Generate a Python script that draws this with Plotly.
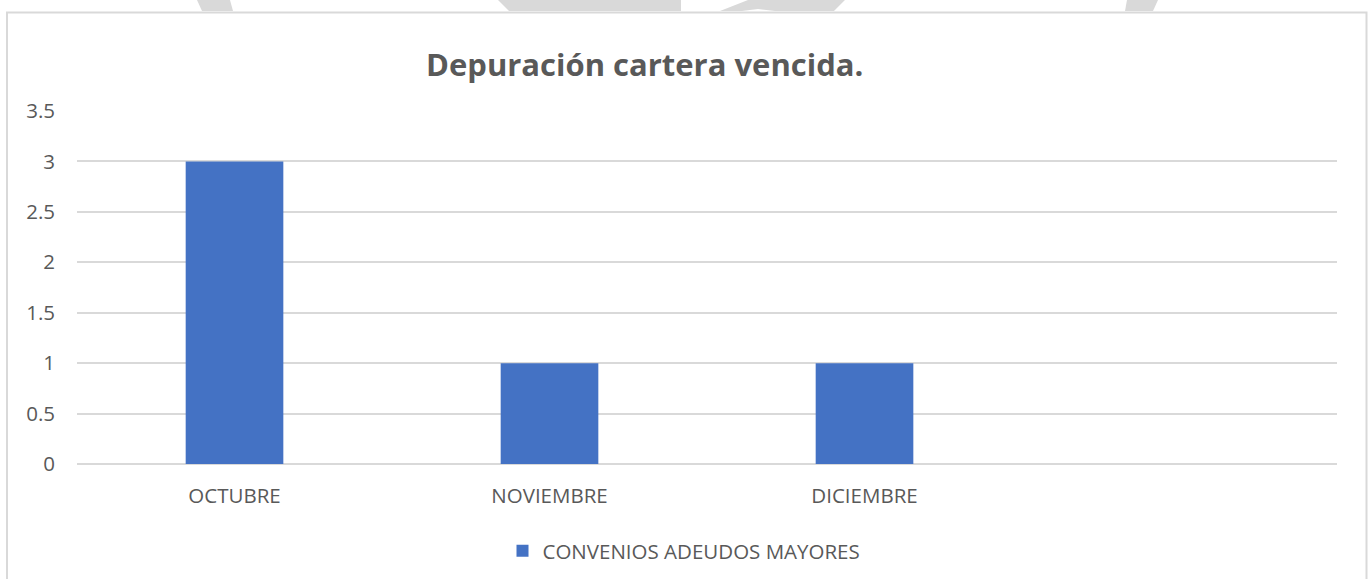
import plotly.graph_objects as go

# ---- data ----
categories = ["OCTUBRE", "NOVIEMBRE", "DICIEMBRE"]
values = [3, 1, 1]
series_name = "CONVENIOS ADEUDOS MAYORES"
title_text = "Depuración cartera vencida."
y_ticks = [0, 0.5, 1, 1.5, 2, 2.5, 3, 3.5]
y_tick_labels = ["0", "0.5", "1", "1.5", "2", "2.5", "3", "3.5"]

# ---- geometry helpers (pixel -> paper) ----
W, H = 1368, 579
PL, PR, PT, PB = 77, 1337, 111, 464


def px(x):
    return (x - PL) / (PR - PL)


def py(y):
    return (PB - y) / (PB - PT)


def poly(points):
    d = "M " + " L ".join(f"{px(x):.5f},{py(y):.5f}" for x, y in points) + " Z"
    return d


TEXT = "#595959"
GRID = "#d9d9d9"
FONT = "Open Sans"

fig = go.Figure(
    go.Bar(
        x=categories,
        y=values,
        name=series_name,
        marker=dict(color="#4472C4", line=dict(width=0)),
        width=0.31,
        showlegend=True,
    )
)

shapes = [
    # chart border
    dict(type="rect", xref="paper", yref="paper",
         x0=px(7), x1=px(1366.5), y0=py(620), y1=py(12.5),
         line=dict(color=GRID, width=2), fillcolor="rgba(0,0,0,0)", layer="below"),
    # watermark fragments above the chart border
    dict(type="path", xref="paper", yref="paper", path=poly([(197, 0), (230, 0), (233, 11), (202, 11)]),
         fillcolor=GRID, line=dict(width=0), layer="below"),
    dict(type="path", xref="paper", yref="paper", path=poly([(498, 0), (681, 0), (681, 11), (509, 11)]),
         fillcolor=GRID, line=dict(width=0), layer="below"),
    dict(type="path", xref="paper", yref="paper",
         path=poly([(748, 0), (845, 0), (834, 11), (775, 11), (758, 9), (742, 11), (720, 11)]),
         fillcolor=GRID, line=dict(width=0), layer="below"),
    dict(type="path", xref="paper", yref="paper", path=poly([(1127, 0), (1158, 0), (1153, 11), (1125, 11)]),
         fillcolor=GRID, line=dict(width=0), layer="below"),
]

fig.update_layout(
    width=W, height=H,
    margin=dict(l=PL, r=W - PR, t=PT, b=H - PB, pad=0, autoexpand=False),
    paper_bgcolor="white", plot_bgcolor="white",
    font=dict(family=FONT, color=TEXT, size=20),
    shapes=shapes,
    annotations=[
        dict(text=f"<b>{title_text}</b>", xref="paper", yref="paper",
             x=px(644), y=py(64), xanchor="center", yanchor="middle",
             showarrow=False, font=dict(family=FONT, size=31, color=TEXT)),
    ],
    xaxis=dict(
        type="category", range=[-0.5, 3.5], showgrid=False, showline=False,
        zeroline=False, ticks="", tickfont=dict(size=20.5, color=TEXT),
        ticklabelstandoff=17, automargin=False,
    ),
    yaxis=dict(
        range=[0, 3.5], tickvals=y_ticks, ticktext=y_tick_labels,
        showgrid=True, gridcolor=GRID, gridwidth=1.5,
        zeroline=True, zerolinecolor=GRID, zerolinewidth=1.5,
        showline=False, ticks="", tickfont=dict(size=20.5, color=TEXT),
        ticklabelstandoff=21, automargin=False,
    ),
    legend=dict(
        orientation="h", x=px(684), xanchor="center", y=py(551), yanchor="middle",
        font=dict(size=20.5, color=TEXT), bgcolor="rgba(0,0,0,0)",
        itemwidth=30,
    ),
    bargap=0.69,
)

fig.write_html(
    "out.html",
    config={"displayModeBar": False},
    post_script="document.body.style.margin='0';document.body.style.padding='0';"
                "document.documentElement.style.overflow='hidden';",
)
